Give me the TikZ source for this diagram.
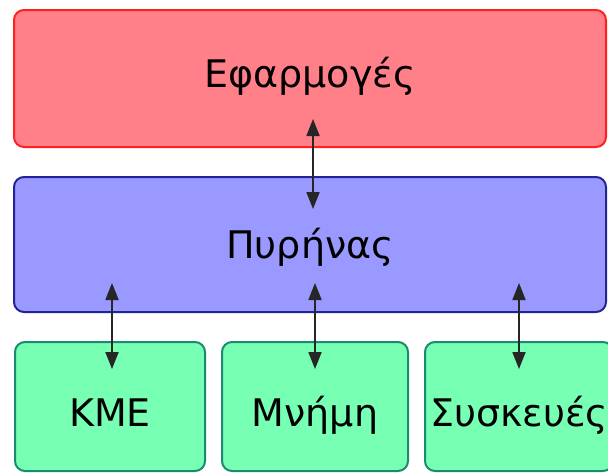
\documentclass[tikz,border=0pt]{standalone}
\usepackage{fontspec}
\setmainfont{DejaVu Sans}
\usetikzlibrary{arrows.meta}
\definecolor{appfill}{HTML}{FF8088}
\definecolor{appdraw}{HTML}{FF2020}
\definecolor{kerfill}{HTML}{9999FF}
\definecolor{kerdraw}{HTML}{222299}
\definecolor{hwfill}{HTML}{77FFB4}
\definecolor{hwdraw}{HTML}{1A8A70}
\tikzset{
  layer/.style={rounded corners=10pt, line width=2pt, inner sep=0pt, font=\fontsize{38}{40}\selectfont},
  arr/.style={{Triangle[length=17pt,width=13pt]}-{Triangle[length=17pt,width=13pt]}, line width=1.8pt, black!85}
}
\begin{document}
\begin{tikzpicture}[x=1pt,y=-1pt]
\useasboundingbox (0,0) rectangle (608,472);
\node[layer, draw=appdraw, fill=appfill, minimum width=592pt, minimum height=137pt, text height=30pt, text depth=13pt] (app) at (310,78.5) {Εφαρμογές};
\node[layer, draw=kerdraw, fill=kerfill, minimum width=592pt, minimum height=135pt, text height=34pt, text depth=7pt] (ker) at (310,244.5) {Πυρήνας};
\tikzset{hw/.style={layer, draw=hwdraw, fill=hwfill, minimum height=129pt, text height=45pt, text depth=6pt}}
\node[hw, minimum width=190pt] (cpu) at (110,406.5) {ΚΜΕ};
\node[hw, minimum width=186pt] (mem) at (315,406.5) {Μνήμη};
\node[hw, minimum width=188pt] (dev) at (519,406.5) {Συσκευές};
\draw[arr] ([xshift=3pt,yshift=29pt]app.south) -- ([xshift=3pt,yshift=-33pt]ker.north);
\draw[arr] ([xshift=2pt,yshift=30pt]ker.south -| cpu.north) -- ([xshift=2pt,yshift=-28pt]cpu.north);
\draw[arr] ([yshift=30pt]ker.south -| mem.north) -- ([yshift=-28pt]mem.north);
\draw[arr] ([yshift=30pt]ker.south -| dev.north) -- ([yshift=-28pt]dev.north);
\end{tikzpicture}
\end{document}
